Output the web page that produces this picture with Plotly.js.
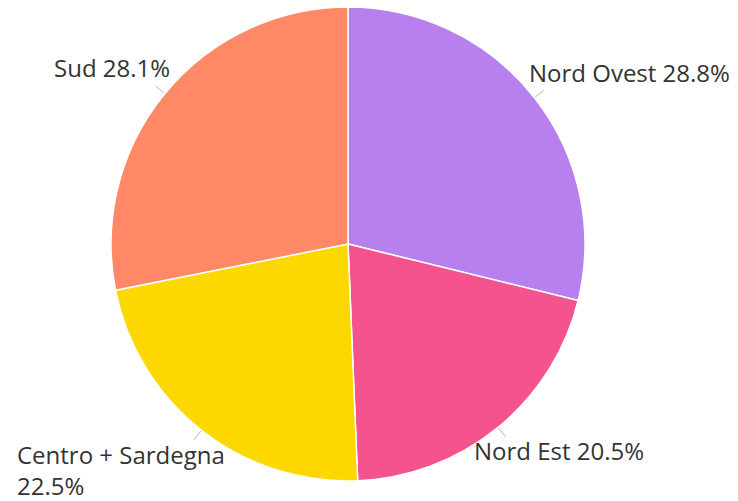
<!DOCTYPE html>
<html>
<head>
<meta charset="utf-8">
<script src="https://cdn.plot.ly/plotly-3.0.1.min.js"></script>
<style>html,body{margin:0;padding:0;background:#fff;}</style>
</head>
<body>
<div id="chart" style="width:738px;height:501px;"></div>
<script>
const labels = ["Nord Ovest", "Nord Est", "Centro + Sardegna", "Sud"];
const values = [28.8, 20.5, 22.5, 28.1];
const colors = ["#B880EE", "#F4538D", "#FDD700", "#FF8966"];

// layout geometry
const W = 738, H = 501;
const margin = {l: 0, r: 42, t: 7, b: 20};
const pw = W - margin.l - margin.r, ph = H - margin.t - margin.b;
const cx = pw / 2, cy = ph / 2, R = Math.min(pw, ph) / 2;
const toX = px => px / pw;
const toY = py => 1 - py / ph;

const total = values.reduce((a, b) => a + b, 0);
const annotations = [];
const shapes = [];
let cum = 0;
values.forEach((v, i) => {
  const mid = (cum + v / 2) / total * 2 * Math.PI;
  cum += v;
  const s = Math.sin(mid), c = Math.cos(mid);
  const sgn = s >= 0 ? 1 : -1;
  // leader line
  const r0 = R + 1, r1 = R + 12;
  shapes.push({
    type: "line", xref: "paper", yref: "paper",
    x0: toX(cx + s * r0), y0: toY(cy - c * r0),
    x1: toX(cx + s * r1), y1: toY(cy - c * r1),
    line: {color: "#b5b5b5", width: 1}
  });
  // label
  const endX = cx + s * r1;
  const nearX = endX - sgn * (24 - 12 * c);
  const lineY = cy - c * (R + 36);
  const top = c >= 0;
  const txt = (labels[i].length > 15 ? labels[i] + "<br>" : labels[i] + " ") + v.toFixed(1) + "%";
  annotations.push({
    xref: "paper", yref: "paper",
    x: toX(nearX),
    y: toY(top ? lineY + 15 : lineY - 23),
    xanchor: sgn > 0 ? "left" : "right",
    yanchor: top ? "bottom" : "top",
    align: "left",
    text: txt,
    showarrow: false,
    font: {family: "'Open Sans', sans-serif", size: 24, color: "#333333"}
  });
});

Plotly.newPlot("chart", [{
  type: "pie",
  labels: labels,
  values: values,
  textinfo: "none",
  hoverinfo: "label+percent",
  sort: false,
  direction: "clockwise",
  rotation: 0,
  marker: {colors: colors, line: {color: "#ffffff", width: 1.5}},
  automargin: false
}], {
  width: W,
  height: H,
  margin: margin,
  showlegend: false,
  paper_bgcolor: "#ffffff",
  shapes: shapes,
  annotations: annotations
}, {displayModeBar: false});
</script>
</body>
</html>
